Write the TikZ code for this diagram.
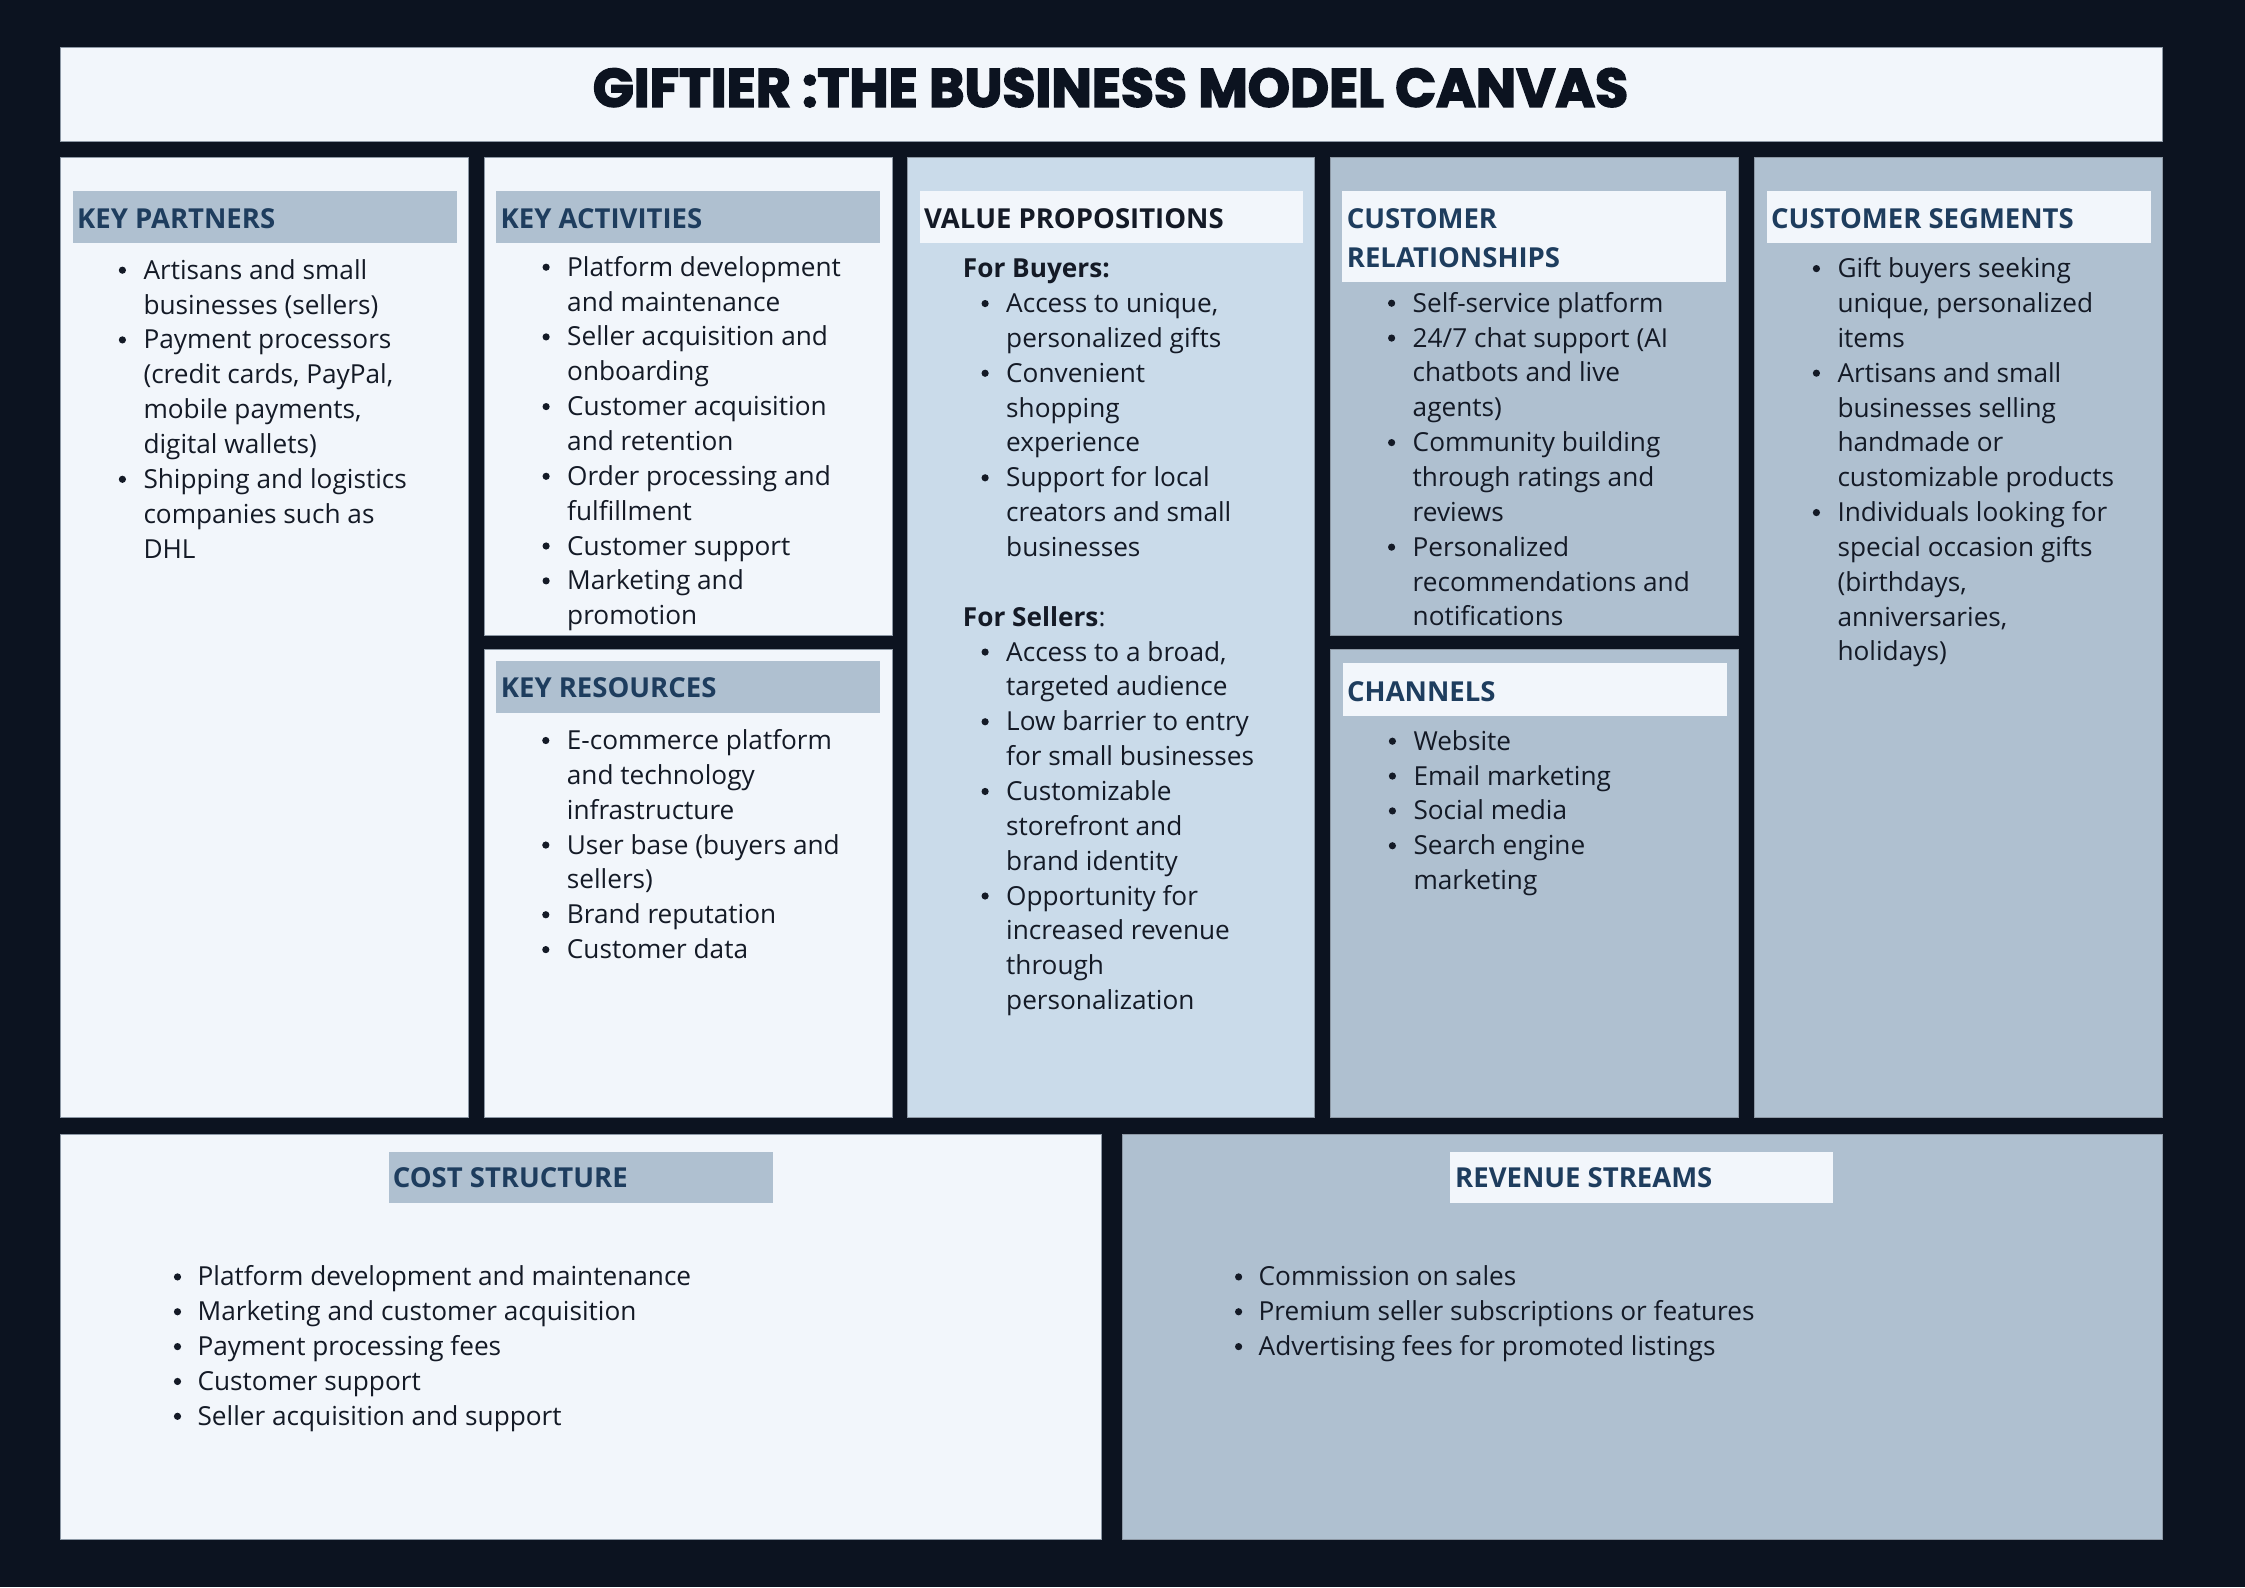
\documentclass[tikz,border=0pt]{standalone}
\usepackage{fontspec}
\usepackage{graphicx}
\setmainfont{Open Sans}
\newfontfamily\titlefont{Poppins}[BoldFeatures={FakeBold=3}]
\definecolor{bgc}{HTML}{0C1320}
\definecolor{lightc}{HTML}{F2F6FB}
\definecolor{vpc}{HTML}{CADBEA}
\definecolor{grayc}{HTML}{AFC0D0}
\definecolor{headc}{HTML}{1E3D5E}
\definecolor{textc}{HTML}{141A26}
\definecolor{edgec}{HTML}{8D98A5}
\newcommand{\dotmark}{\tikz[baseline=0pt]\fill[textc] (3.7pt,9pt) circle[radius=3.6pt];}
\newcommand{\bul}{\makebox[27pt][l]{\hspace{2.3pt}\dotmark}}
\newcommand{\ind}{\makebox[27pt]{}}
\newcommand{\bulb}{\makebox[24pt][l]{\hspace{0.3pt}\dotmark}}
\newcommand{\sub}{\makebox[16.3pt]{}}
\newcommand{\st}{\rule{0pt}{30pt}}
\begin{document}
\begin{tikzpicture}[x=1pt,y=-1pt,
  panel/.style={draw=edgec, line width=0.8pt, inner sep=0pt, outer sep=0pt, anchor=north west},
  hbar/.style={inner sep=0pt, outer sep=0pt, anchor=north west},
  htext/.style={anchor=base west, inner sep=0pt, text=headc, font=\fontsize{27.5}{39}\selectfont\bfseries},
  blist/.style={anchor=north west, inner sep=0pt, align=left, text=textc, font=\fontsize{26.2}{34.85}\selectfont}
]
\fill[bgc] (0,0) rectangle (2245,1587);
% title
\node[panel, fill=lightc, minimum width=2102pt, minimum height=93.5pt] (titlebox) at (60,47.5) {};
\node[anchor=base, inner sep=0pt, text=bgc] (title) at (1110.5,106.7) {\resizebox{1035pt}{38.4pt}{\titlefont\bfseries GIFTIER :THE BUSINESS MODEL CANVAS}};
% panels
\node[panel, fill=lightc, minimum width=408.5pt, minimum height=959.5pt] (kp) at (60,157.5) {};
\node[panel, fill=lightc, minimum width=408pt, minimum height=478pt] (ka) at (484,157.5) {};
\node[panel, fill=lightc, minimum width=408pt, minimum height=468pt] (kr) at (484,649) {};
\node[panel, fill=vpc, minimum width=406.5pt, minimum height=959.5pt] (vp) at (907.5,157.5) {};
\node[panel, fill=grayc, minimum width=408pt, minimum height=478pt] (cr) at (1330,157.5) {};
\node[panel, fill=grayc, minimum width=408pt, minimum height=468pt] (ch) at (1330,649) {};
\node[panel, fill=grayc, minimum width=408.3pt, minimum height=959.5pt] (cs) at (1754,157.5) {};
\node[panel, fill=lightc, minimum width=1041pt, minimum height=405pt] (cost) at (60,1134) {};
\node[panel, fill=grayc, minimum width=1040.5pt, minimum height=405pt] (rev) at (1122,1134) {};
% header bars
\node[hbar, fill=grayc, minimum width=384pt, minimum height=52pt] (kph) at (72.5,191) {};
\node[hbar, fill=grayc, minimum width=384pt, minimum height=52pt] (kah) at (496,191) {};
\node[hbar, fill=lightc, minimum width=383.5pt, minimum height=52pt] (vph) at (919.5,191) {};
\node[hbar, fill=lightc, minimum width=384pt, minimum height=91pt] (crh) at (1342,191) {};
\node[hbar, fill=lightc, minimum width=383.5pt, minimum height=52pt] (csh) at (1767,191) {};
\node[hbar, fill=grayc, minimum width=384pt, minimum height=52pt] (krh) at (496,661) {};
\node[hbar, fill=lightc, minimum width=384pt, minimum height=52.5pt] (chh) at (1342.5,663) {};
\node[hbar, fill=grayc, minimum width=384pt, minimum height=51.5pt] (costh) at (389,1151.5) {};
\node[hbar, fill=lightc, minimum width=383pt, minimum height=51.5pt] (revh) at (1450,1151.5) {};
% header texts
\node[htext] (kpt) at (77,228.3) {KEY PARTNERS};
\node[htext] (kat) at (500.5,228.3) {KEY ACTIVITIES};
\node[htext, text=textc] (vpt) at (924,228.3) {VALUE PROPOSITIONS};
\node[htext] (crt1) at (1346.7,228.3) {CUSTOMER};
\node[htext] (crt2) at (1346.7,267.3) {RELATIONSHIPS};
\node[htext] (cst) at (1771,228.3) {CUSTOMER SEGMENTS};
\node[htext] (krt) at (500.7,697.7) {KEY RESOURCES};
\node[htext] (cht) at (1347,701) {CHANNELS};
\node[htext] (costt) at (392.6,1187.7) {COST STRUCTURE};
\node[htext] (revt) at (1455,1187.7) {REVENUE STREAMS};
% lists
\node[blist] (kpl) at (116.3,249) {\st\bul Artisans and small\\
\ind businesses (sellers)\\
\bul Payment processors\\
\ind (credit cards, PayPal,\\
\ind mobile payments,\\
\ind digital wallets)\\
\bul Shipping and logistics\\
\ind companies such as\\
\ind DHL};
\node[blist] (kal) at (540,246) {\st\bul Platform development\\
\ind and maintenance\\
\bul Seller acquisition and\\
\ind onboarding\\
\bul Customer acquisition\\
\ind and retention\\
\bul Order processing and\\
\ind fulfillment\\
\bul Customer support\\
\bul Marketing and\\
\ind promotion};
\node[blist] (krl) at (539.7,719.3) {\st\bul E-commerce platform\\
\ind and technology\\
\ind infrastructure\\
\bul User base (buyers and\\
\ind sellers)\\
\bul Brand reputation\\
\bul Customer data};
\node[blist] (vpl) at (962.7,247.5) {\st\textbf{For Buyers:}\\
\sub\bul Access to unique,\\
\sub\ind personalized gifts\\
\sub\bul Convenient\\
\sub\ind shopping\\
\sub\ind experience\\
\sub\bul Support for local\\
\sub\ind creators and small\\
\sub\ind businesses\\
\mbox{}\\
\textbf{For Sellers}:\\
\sub\bul Access to a broad,\\
\sub\ind targeted audience\\
\sub\bul Low barrier to entry\\
\sub\ind for small businesses\\
\sub\bul Customizable\\
\sub\ind storefront and\\
\sub\ind brand identity\\
\sub\bul Opportunity for\\
\sub\ind increased revenue\\
\sub\ind through\\
\sub\ind personalization};
\node[blist] (crl) at (1385.5,282) {\st\bul Self-service platform\\
\bul 24/7 chat support (AI\\
\ind chatbots and live\\
\ind agents)\\
\bul Community building\\
\ind through ratings and\\
\ind reviews\\
\bul Personalized\\
\ind recommendations and\\
\ind notifications};
\node[blist] (chl) at (1386.3,720) {\st\bul Website\\
\bul Email marketing\\
\bul Social media\\
\bul Search engine\\
\ind marketing};
\node[blist] (csl) at (1810.3,247.4) {\st\bul Gift buyers seeking\\
\ind unique, personalized\\
\ind items\\
\bul Artisans and small\\
\ind businesses selling\\
\ind handmade or\\
\ind customizable products\\
\bul Individuals looking for\\
\ind special occasion gifts\\
\ind (birthdays,\\
\ind anniversaries,\\
\ind holidays)};
\node[blist] (costl) at (173.4,1255.7) {\st\bulb Platform development and maintenance\\
\bulb Marketing and customer acquisition\\
\bulb Payment processing fees\\
\bulb Customer support\\
\bulb Seller acquisition and support};
\node[blist] (revl) at (1234.5,1255.7) {\st\bulb Commission on sales\\
\bulb Premium seller subscriptions or features\\
\bulb Advertising fees for promoted listings};
\end{tikzpicture}
\end{document}
